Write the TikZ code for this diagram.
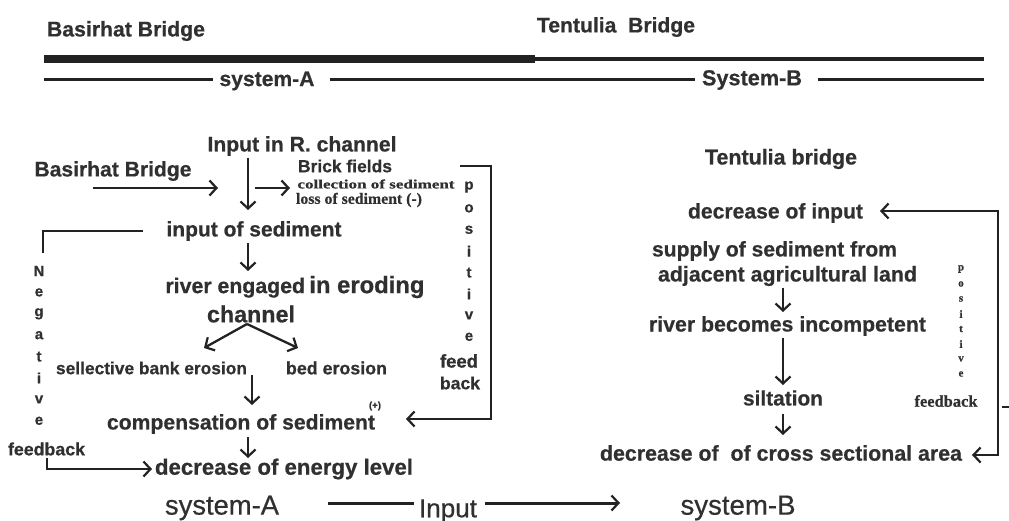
\documentclass[tikz,border=0pt]{standalone}
\usepackage{graphicx}
\usepackage{fontspec}
\setmainfont{Liberation Sans}[BoldFeatures={FakeBold=0.6}]
\newfontfamily\medf{Liberation Sans}[FakeBold=0.5]
\newfontfamily\serifb{Liberation Serif}[BoldFeatures={FakeBold=0.6}]
\usetikzlibrary{arrows.meta}
\definecolor{tc}{HTML}{303030}
\definecolor{lc}{HTML}{222222}
\newcommand\fitw[2]{\resizebox{#1pt}{!}{#2}}
\newcommand\fitwh[3]{\resizebox{#1pt}{#2pt}{#3}}
\begin{document}
\begin{tikzpicture}[x=1pt,y=-1pt,
  txt/.style={inner sep=0pt, text=tc, font=\bfseries},
  mtxt/.style={inner sep=0pt, text=tc, font=\medf},
  stxt/.style={inner sep=0pt, text=tc, font=\serifb\bfseries},
  ln/.style={draw=lc, line width=2.3pt},
  tip/.tip={Straight Barb[length=7pt,width=15pt,line width=2.2pt]},
  arr/.style={draw=lc, line width=2.3pt, -tip},
  arrb/.style={draw=lc, line width=2.3pt, tip-tip}]
\useasboundingbox[fill=white] (0,0) rectangle (1009,521);

% ---------- header ----------
\node[txt] (hB) at (126,31) {\fitw{158}{Basirhat Bridge}};
\node[txt] (hT) at (616,27) {\fitw{158}{Tentulia\ \ Bridge}};
\coordinate (t0) at (44,59); \coordinate (t1) at (535,59); \coordinate (t2) at (984,59);
\draw[lc, line width=8pt] (t0) -- (t1);
\draw[lc, line width=3.5pt] (t1) -- (t2);
\node[txt] (sA) at (267,81) {\fitw{95}{system-A}};
\node[txt] (sB) at (752,80) {\fitw{100}{System-B}};
\coordinate (l0) at (44,80); \coordinate (l1) at (213,80);
\coordinate (l2) at (330,80); \coordinate (l3) at (695,80);
\coordinate (l4) at (818,80); \coordinate (l5) at (984,80);
\draw[ln, line width=3pt] (l0) -- (l1);
\draw[ln, line width=3pt] (l2) -- (l3);
\draw[ln, line width=3pt] (l4) -- (l5);

% ---------- system A ----------
\node[txt] (inR) at (302,146) {\fitw{189}{Input in R. channel}};
\node[txt] (bB) at (113,171) {\fitw{157}{Basirhat Bridge}};
\node[txt] (brick) at (345,166) {\fitw{94}{Brick fields}};
\node[stxt] (coll) at (376,184) {\fitwh{157}{9}{collection of sediment}};
\node[stxt] (loss) at (359,200) {\fitwh{126}{11}{loss of sediment (-)}};
\coordinate (a1) at (93,188); \coordinate (a2) at (218,188);
\coordinate (v1) at (248,158); \coordinate (v2) at (248,210);
\coordinate (b1) at (255,188); \coordinate (b2) at (290,188);
\draw[arr] (a1) -- (a2);
\draw[arr] (v1) -- (v2);
\draw[arr] (b1) -- (b2);

\node[txt] (iS) at (254,231) {\fitw{175}{input of sediment}};
\coordinate (v3) at (248,243); \coordinate (v4) at (248,271);
\draw[arr] (v3) -- (v4);

\node[txt] (riv) at (295,287) {\fitw{259}{river engaged\hspace{0.2em}{\fontsize{11.2}{12}\selectfont in eroding}}};
\node[txt] (chan) at (251,314) {\fitw{88}{channel}};
\coordinate (apex) at (247,324); \coordinate (dl) at (204,348); \coordinate (dr) at (298,348);
\draw[arr] (apex) -- (dl);
\draw[arr] (apex) -- (dr);
\node[txt] (sbe) at (151.5,368) {\fitw{191}{sellective bank erosion}};
\node[txt] (bed) at (336.5,368) {\fitw{101}{bed erosion}};
\coordinate (v5) at (252,375); \coordinate (v6) at (252,405);
\draw[arr] (v5) -- (v6);
\node[txt] (comp) at (241,424) {\fitw{268}{compensation of sediment}};
\node[txt] (plus) at (375,406) {\fitw{12}{(+)}};
\coordinate (v7) at (248,437); \coordinate (v8) at (248,458);
\draw[arr] (v7) -- (v8);
\node[txt] (dec) at (284,469) {\fitw{258}{decrease of energy level}};

% negative feedback
\coordinate (n1) at (143,231); \coordinate (n2) at (43,231); \coordinate (n3) at (43,253);
\draw[ln] (n1) -- (n2) -- (n3);
\foreach \l [count=\i from 0] in {N,e,g,a,t,i,v,e}
  \node[txt] (neg\i) at (39,{271+\i*21.4}) {\fontsize{15}{15}\selectfont \l};
\node[txt] (nfb) at (46.5,449) {\fitw{77}{feedback}};
\coordinate (n4) at (47,458); \coordinate (n5) at (152,469);
\draw[arr] (n4) |- (n5);

% positive feedback (A)
\coordinate (p1) at (460,166); \coordinate (p2) at (491,166);
\coordinate (p3) at (491,419); \coordinate (p4) at (406,419);
\draw[arr] (p1) -- (p2) -- (p3) -- (p4);
\foreach \l [count=\i from 0] in {p,o,s,i,t,i,v,e}
  \node[txt] (pos\i) at (469,{187+\i*21.4}) {\fontsize{15}{15}\selectfont \l};
\node[txt] (pf1) at (459,361) {\fitw{38}{feed}};
\node[txt] (pf2) at (460,383) {\fitw{40}{back}};

% ---------- bottom ----------
\node[mtxt] (sysA) at (222,508) {\fitw{114}{system-A}};
\node[mtxt] (inp) at (448,511) {\fitw{58}{Input}};
\coordinate (i1) at (328,503); \coordinate (i2) at (414,503);
\coordinate (i3) at (485,503); \coordinate (i4) at (620,503);
\draw[ln, line width=3pt] (i1) -- (i2);
\draw[arr, line width=3pt] (i3) -- (i4);
\node[mtxt] (sysB) at (738,508) {\fitw{115}{system-B}};

% ---------- system B ----------
\node[txt] (tb) at (781,159) {\fitw{152}{Tentulia bridge}};
\node[txt] (doi) at (775.5,213) {\fitw{175}{decrease of input}};
\node[txt] (sup) at (774.5,251) {\fitw{245}{supply of sediment from}};
\node[txt] (adj) at (787.5,276) {\fitw{259}{adjacent agricultural land}};
\coordinate (w1) at (783,288); \coordinate (w2) at (783,312);
\draw[arr] (w1) -- (w2);
\node[txt] (rbi) at (787.5,326) {\fitw{277}{river becomes incompetent}};
\coordinate (w3) at (783,338); \coordinate (w4) at (783,385);
\draw[arr] (w3) -- (w4);
\node[txt] (silt) at (783,398) {\fitw{80}{siltation}};
\coordinate (w5) at (783,414); \coordinate (w6) at (783,435);
\draw[arr] (w5) -- (w6);
\node[txt] (dcs) at (781,453) {\fitw{362}{decrease of\ \ of cross sectional area}};

% positive feedback (B)
\coordinate (q1) at (880,211); \coordinate (q2) at (998,211);
\coordinate (q3) at (998,455); \coordinate (q4) at (972,455);
\draw[arrb] (q1) -- (q2) -- (q3) -- (q4);
\foreach \l [count=\i from 0] in {p,o,s,i,t,i,v,e}
  \node[stxt] (rpos\i) at (961,{269+\i*15}) {\fontsize{11}{11}\selectfont \l};
\node[stxt] (rfb) at (946,401) {\fitw{63}{feedback}};
\coordinate (k1) at (1002,407); \coordinate (k2) at (1009,407);
\draw[lc, line width=1.2pt] (k1) -- (k2);
\end{tikzpicture}
\end{document}
